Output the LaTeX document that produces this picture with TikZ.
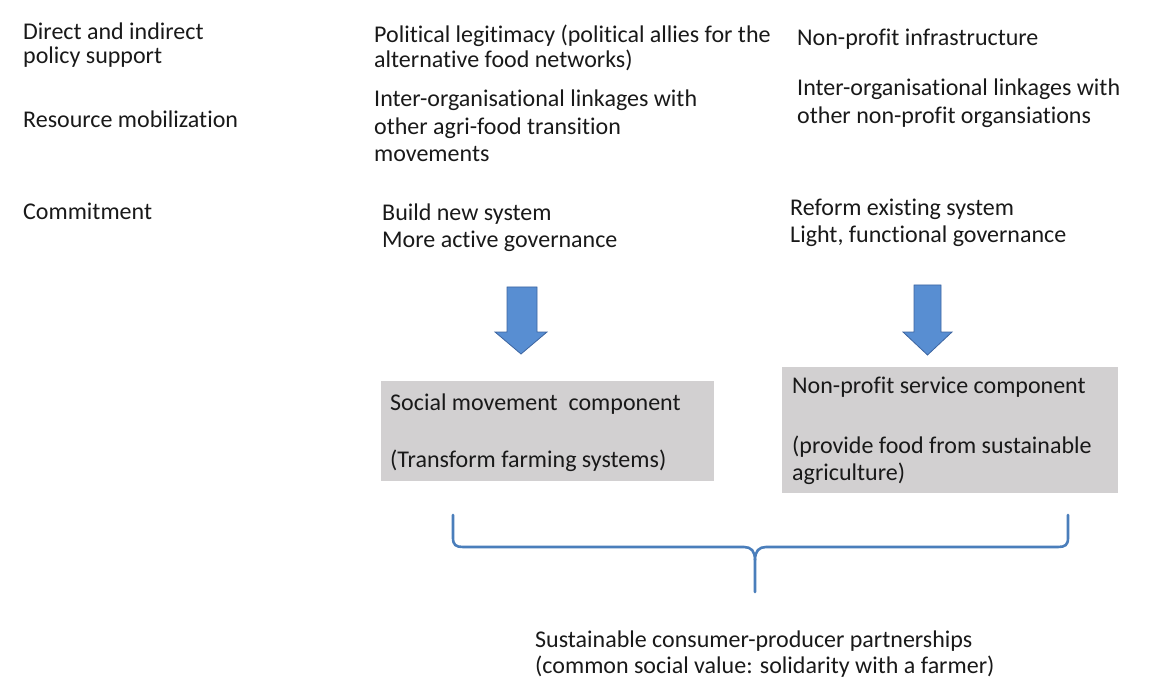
\documentclass[tikz,border=0pt]{standalone}
\usepackage{fontspec}
\setmainfont[Ligatures=NoCommon]{Carlito}
\begin{document}
\begin{tikzpicture}[x=1pt,y=-1pt,
  lbl/.style={anchor=base west,inner sep=0pt,align=left,text=black!90,
              font=\fontsize{24}{#1}\selectfont},
  lbl/.default=27,
  greybox/.style={anchor=north west,inner sep=0pt,fill={rgb,255:red,210;green,208;blue,209}},
  blockarrow/.style={fill={rgb,255:red,88;green,142;blue,210},draw={rgb,255:red,60;green,100;blue,160},line width=0.8pt},
  bracepen/.style={draw={rgb,255:red,74;green,126;blue,187},line width=2.6pt,line join=round,line cap=round}]
\useasboundingbox (0,0) rectangle (1155,684);

% row headings (multi-line labels are placed by their last baseline)
\node[lbl=24] (hPolicy) at (23,64) {Direct and indirect\\policy support};
\node[lbl] (hResource) at (23,128) {Resource mobilization};
\node[lbl] (hCommit) at (23,220) {Commitment};

% social movement column
\node[lbl=25] (smPolicy) at (374,68) {Political legitimacy (political allies for the\\alternative food networks)};
\node[lbl=27.5] (smResource) at (374,162) {Inter-organisational linkages with\\other agri-food transition\\movements};
\node[lbl] (smCommit) at (382,248) {Build new system\\More active governance};

% non-profit column
\node[lbl] (npPolicy) at (797,46) {Non-profit infrastructure};
\node[lbl=28] (npResource) at (797,124) {Inter-organisational linkages with\\other non-profit organsiations};
\node[lbl] (npCommit) at (790,243) {Reform existing system\\Light, functional governance};

% downward block arrows
\draw[blockarrow] (507,287) -- (537,287) -- (537,332) -- (547,332) -- (521,354)
  -- (495,332) -- (507,332) -- cycle;
\draw[blockarrow] (914,285) -- (941,285) -- (941,332) -- (952,332) -- (927.5,355)
  -- (903,332) -- (914,332) -- cycle;

% component boxes
\node[greybox,minimum width=333pt,minimum height=100pt] (smBox) at (381,381) {};
\node[lbl] (smBoxText) at (390,410) {Social movement~~component};
\node[lbl] (smBoxNote) at (390,467) {(Transform farming systems)};

\node[greybox,minimum width=336pt,minimum height=126pt] (npBox) at (782,367) {};
\node[lbl] (npBoxText) at (792,393) {Non-profit service component};
\node[lbl] (npBoxNote) at (792,480) {(provide food from sustainable\\agriculture)};

% brace gathering both components
\coordinate (brL) at (453,515);
\coordinate (brR) at (1068,515);
\coordinate (brTip) at (755,592);
\draw[bracepen] (brL) -- (453,538) .. controls (453,545) and (456,547) .. (463,547)
  -- (744,547) .. controls (751,547) and (755,551) .. (755,560) -- (brTip);
\draw[bracepen] (brR) -- (1068,538) .. controls (1068,545) and (1065,547) .. (1058,547)
  -- (766,547) .. controls (759,547) and (755,551) .. (755,560);

% outcome
\node[lbl=26] (outcome) at (535,673) {Sustainable consumer-producer partnerships\\(common social value: solidarity with a farmer)};
\end{tikzpicture}
\end{document}
